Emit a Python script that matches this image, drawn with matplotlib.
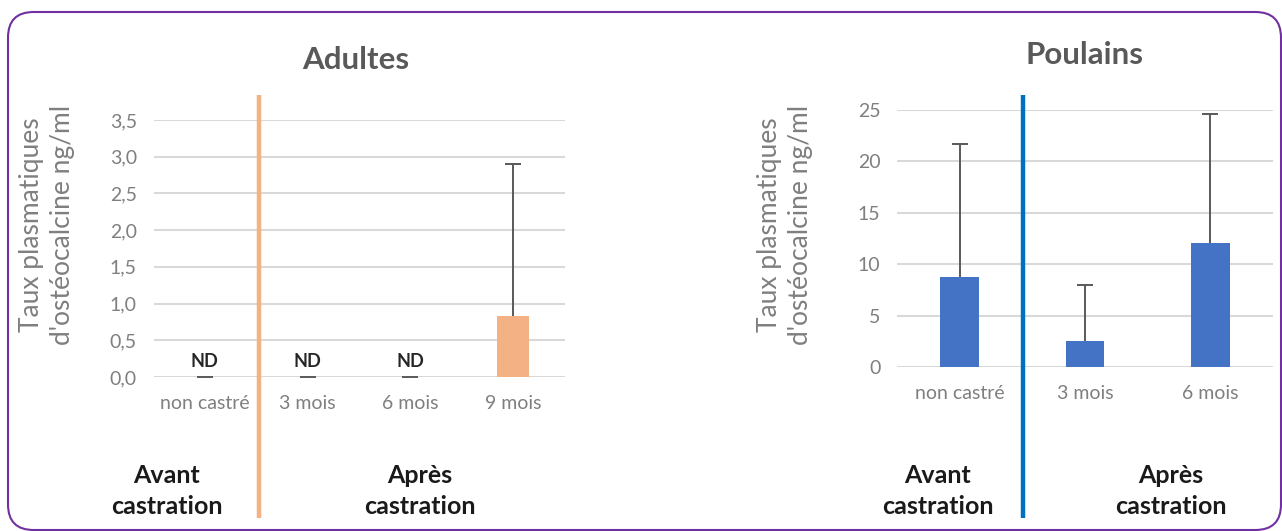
import matplotlib
matplotlib.use("Agg")
import matplotlib.pyplot as plt
from matplotlib.patches import FancyBboxPatch
from matplotlib.lines import Line2D

plt.rcParams['font.family'] = ['Lato', 'DejaVu Sans']

# Adult horses
adult_categories = ["non castré", "3 mois", "6 mois", "9 mois"]
adult_values = [0.0, 0.0, 0.0, 0.83]
adult_errors = [0.0, 0.0, 0.0, 2.07]
adult_nd = [True, True, True, False]
adult_yticks = [0.0, 0.5, 1.0, 1.5, 2.0, 2.5, 3.0, 3.5]

# Foals
foal_categories = ["non castré", "3 mois", "6 mois"]
foal_values = [8.8, 2.6, 12.1]
foal_errors = [12.9, 5.4, 12.5]
foal_yticks = [0, 5, 10, 15, 20, 25]

W, H = 1282, 531
fig = plt.figure(figsize=(W / 100, H / 100), dpi=100)
fig.patch.set_facecolor("white")

GRID = "#D9D9D9"
TICK = "#7F7F7F"
TITLE = "#595959"
ERR = "#595959"


def fx(px):
    return px / W


def fy(py):
    return 1 - py / H


def style_axes(ax):
    for s in ax.spines.values():
        s.set_visible(False)
    ax.yaxis.grid(True, color=GRID, linewidth=1.5)
    ax.set_axisbelow(True)
    ax.tick_params(axis="both", length=0, colors=TICK, labelsize=14)
    ax.tick_params(axis="y", pad=12)
    ax.tick_params(axis="x", pad=13)
    ax.set_facecolor("none")


def plus_error_bars(ax, x, values, errors):
    # upper-only error bars: keep the cap at the top end only
    _, caps, _ = ax.errorbar(x, values, yerr=[[0] * len(values), errors],
                             fmt="none", ecolor=ERR, elinewidth=1.4,
                             capsize=6, capthick=1.4, zorder=3)
    caps[0].remove()


# Left panel: adults
axL = fig.add_axes([fx(153.5), fy(377), fx(564.5) - fx(153.5), fy(120) - fy(377)])
style_axes(axL)
xl = range(len(adult_categories))
axL.bar(xl, adult_values, width=0.31, color="#F4B183", zorder=2)
plus_error_bars(axL, xl, adult_values, adult_errors)
for i, (v, nd) in enumerate(zip(adult_values, adult_nd)):
    if nd:
        axL.text(i, v + 0.1, "ND", ha="center", va="bottom", fontsize=13,
                 fontweight="bold", color="#262626")
axL.set_xlim(-0.5, len(adult_categories) - 0.5)
axL.set_ylim(0, 3.5)
axL.set_yticks(adult_yticks)
axL.set_yticklabels([f"{t:.1f}".replace(".", ",") for t in adult_yticks])
axL.set_xticks(list(xl))
axL.set_xticklabels(adult_categories)

# Right panel: foals
axR = fig.add_axes([fx(897), fy(367.3), fx(1273) - fx(897), fy(110) - fy(367.3)])
style_axes(axR)
xr = range(len(foal_categories))
axR.bar(xr, foal_values, width=0.31, color="#4472C4", zorder=2)
plus_error_bars(axR, xr, foal_values, foal_errors)
axR.set_xlim(-0.5, len(foal_categories) - 0.5)
axR.set_ylim(0, 25)
axR.set_yticks(foal_yticks)
axR.set_yticklabels([str(t) for t in foal_yticks])
axR.set_xticks(list(xr))
axR.set_xticklabels(foal_categories)

# Titles
fig.text(fx(356), fy(60), "Adultes", ha="center", va="center", fontsize=22.5,
         fontweight="bold", color=TITLE)
fig.text(fx(1085), fy(55), "Poulains", ha="center", va="center", fontsize=22.5,
         fontweight="bold", color=TITLE)

# Y axis titles
ylab = "Taux plasmatiques\nd'ostéocalcine ng/ml"
for xc in (47, 785):
    fig.text(fx(xc), fy(225), ylab, ha="center", va="center", rotation=90,
             fontsize=19, color=TICK, multialignment="center", linespacing=1.3)

# Separators before / after castration
fig.add_artist(Line2D([fx(259), fx(259)], [fy(95), fy(518)], color="#F4B183",
                      linewidth=3.2, solid_capstyle="butt"))
fig.add_artist(Line2D([fx(1023), fx(1023)], [fy(95), fy(518)], color="#0070C0",
                      linewidth=3.2, solid_capstyle="butt"))

# Period labels
for xc, txt in [(167, "Avant\ncastration"), (420, "Après\ncastration"),
                (938, "Avant\ncastration"), (1171, "Après\ncastration")]:
    fig.text(fx(xc), fy(491), txt, ha="center", va="center", fontsize=18,
             fontweight="bold", color="#1A1A1A", multialignment="center",
             linespacing=1.4)

# Frame
frame = FancyBboxPatch((fx(8), fy(530)), fx(1281) - fx(8), fy(12) - fy(530),
                       boxstyle="round,pad=0,rounding_size=0.02",
                       transform=fig.transFigure, fill=False,
                       edgecolor="#7030A0", linewidth=1.5,
                       mutation_aspect=W / H)
fig.add_artist(frame)

fig.savefig("out.png", dpi=100, facecolor="white")
